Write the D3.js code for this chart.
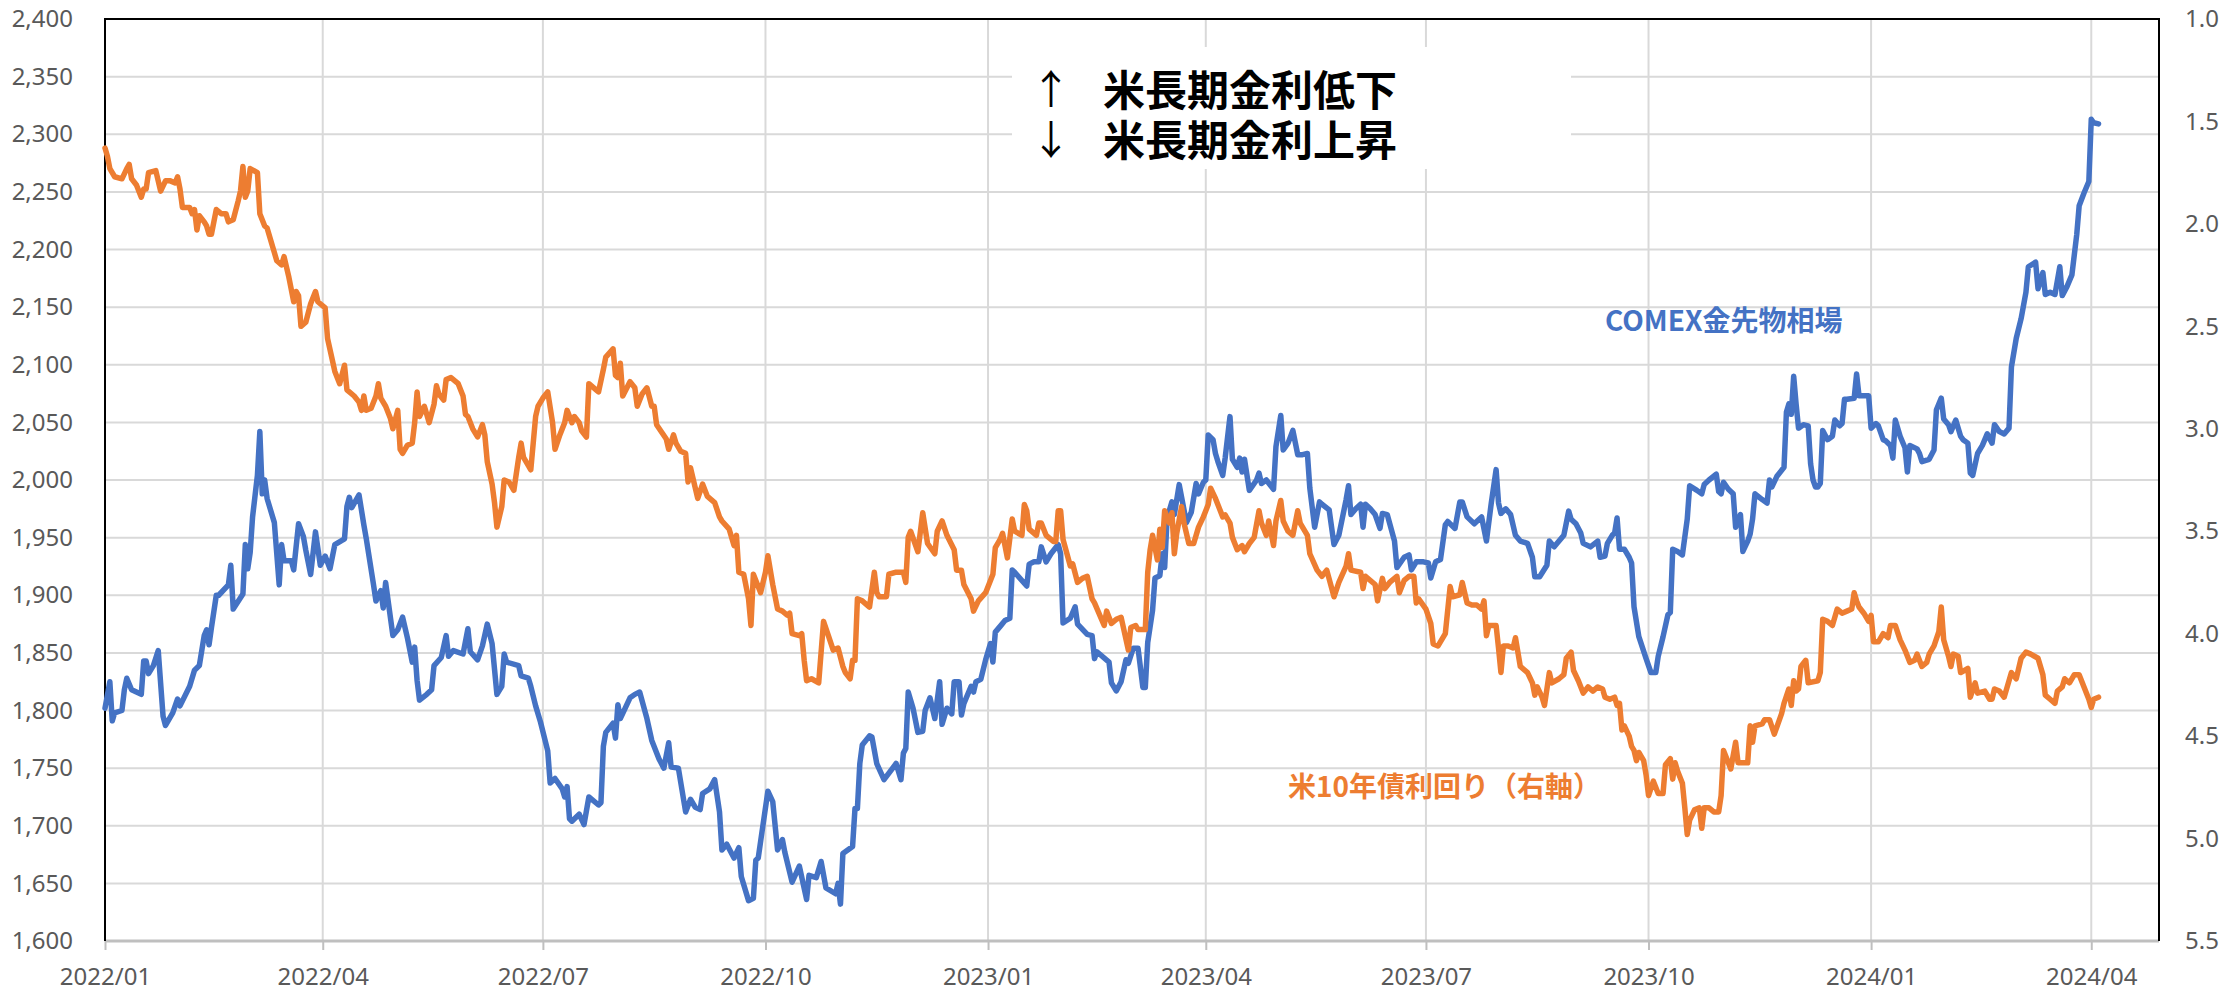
<!DOCTYPE html>
<html><head><meta charset="utf-8">
<script src="https://cdn.jsdelivr.net/npm/d3@7"></script>
<style>html,body{margin:0;padding:0;background:#fff;} svg{display:block;}</style>
</head><body>
<svg id="chart" width="2229" height="994"></svg>
<script>
// ---- Data ----
const goldSeries = [
["2022-01-03",1802],["2022-01-05",1825],["2022-01-06",1791],["2022-01-07",1798],["2022-01-10",1800],["2022-01-11",1818],["2022-01-12",1828],["2022-01-14",1818],["2022-01-16",1816],["2022-01-18",1814],["2022-01-19",1843],["2022-01-20",1843],["2022-01-21",1832],["2022-01-23",1839],["2022-01-25",1852],["2022-01-27",1795],["2022-01-28",1787],["2022-01-31",1798],
["2022-02-02",1810],["2022-02-03",1804],["2022-02-07",1821],["2022-02-09",1835],["2022-02-11",1839],["2022-02-13",1865],["2022-02-14",1870],["2022-02-15",1857],["2022-02-16",1872],["2022-02-18",1900],["2022-02-19",1900],["2022-02-23",1909],["2022-02-24",1926],["2022-02-25",1888],
["2022-03-01",1901],["2022-03-02",1944],["2022-03-03",1923],["2022-03-04",1937],["2022-03-05",1968],["2022-03-06",1986],["2022-03-07",2004],["2022-03-08",2042],["2022-03-09",1988],["2022-03-10",2000],["2022-03-11",1984],["2022-03-14",1963],["2022-03-16",1909],["2022-03-17",1944],["2022-03-18",1930],["2022-03-21",1930],["2022-03-22",1922],["2022-03-24",1962],["2022-03-26",1951],["2022-03-27",1939],["2022-03-29",1918],["2022-03-31",1955],
["2022-04-02",1926],["2022-04-04",1934],["2022-04-06",1923],["2022-04-08",1944],["2022-04-12",1949],["2022-04-13",1977],["2022-04-14",1985],["2022-04-15",1976],["2022-04-18",1987],["2022-04-20",1961],["2022-04-21",1949],["2022-04-24",1909],["2022-04-25",1895],["2022-04-27",1904],["2022-04-28",1889],["2022-04-29",1911],
["2022-05-02",1865],["2022-05-04",1870],["2022-05-06",1881],["2022-05-08",1863],["2022-05-10",1842],["2022-05-11",1855],["2022-05-12",1826],["2022-05-13",1809],["2022-05-16",1814],["2022-05-18",1818],["2022-05-19",1839],["2022-05-22",1846],["2022-05-24",1865],["2022-05-25",1847],["2022-05-27",1852],["2022-05-31",1849],
["2022-06-02",1871],["2022-06-03",1851],["2022-06-06",1844],["2022-06-08",1856],["2022-06-10",1875],["2022-06-12",1858],["2022-06-14",1814],["2022-06-16",1821],["2022-06-17",1849],["2022-06-18",1842],["2022-06-23",1839],["2022-06-24",1830],["2022-06-27",1828],["2022-06-28",1821],["2022-06-30",1804],
["2022-07-02",1790],["2022-07-05",1765],["2022-07-06",1737],["2022-07-08",1741],["2022-07-11",1732],["2022-07-12",1725],["2022-07-13",1734],["2022-07-14",1706],["2022-07-15",1704],["2022-07-18",1710],["2022-07-20",1701],["2022-07-22",1725],["2022-07-26",1718],["2022-07-27",1720],["2022-07-28",1769],["2022-07-29",1781],
["2022-08-01",1789],["2022-08-02",1776],["2022-08-03",1805],["2022-08-04",1793],["2022-08-08",1811],["2022-08-10",1814],["2022-08-12",1816],["2022-08-15",1793],["2022-08-17",1774],["2022-08-20",1758],["2022-08-22",1750],["2022-08-24",1772],["2022-08-25",1751],["2022-08-28",1750],["2022-08-31",1712],
["2022-09-02",1723],["2022-09-04",1716],["2022-09-06",1714],["2022-09-07",1728],["2022-09-10",1732],["2022-09-12",1740],["2022-09-14",1712],["2022-09-15",1679],["2022-09-17",1684],["2022-09-20",1672],["2022-09-22",1681],["2022-09-23",1656],["2022-09-26",1635],["2022-09-28",1637],["2022-09-29",1670],["2022-09-30",1672],
["2022-10-04",1730],["2022-10-06",1721],["2022-10-08",1679],["2022-10-10",1688],["2022-10-11",1677],["2022-10-14",1651],["2022-10-17",1665],["2022-10-20",1636],["2022-10-21",1657],["2022-10-24",1655],["2022-10-26",1669],["2022-10-28",1646],
["2022-11-01",1641],["2022-11-02",1650],["2022-11-03",1632],["2022-11-04",1676],["2022-11-08",1682],["2022-11-09",1715],["2022-11-10",1715],["2022-11-11",1754],["2022-11-12",1770],["2022-11-15",1778],["2022-11-16",1777],["2022-11-18",1754],["2022-11-21",1740],["2022-11-26",1754],["2022-11-28",1740],["2022-11-29",1763],["2022-11-30",1767],
["2022-12-01",1816],["2022-12-03",1802],["2022-12-05",1781],["2022-12-07",1782],["2022-12-08",1800],["2022-12-10",1811],["2022-12-12",1793],["2022-12-14",1825],["2022-12-15",1788],["2022-12-17",1802],["2022-12-19",1797],["2022-12-20",1825],["2022-12-22",1825],["2022-12-23",1796],["2022-12-24",1806],["2022-12-27",1821],["2022-12-28",1816],["2022-12-29",1825],["2022-12-31",1827],
["2023-01-02",1844],["2023-01-04",1858],["2023-01-05",1842],["2023-01-06",1868],["2023-01-08",1873],["2023-01-10",1878],["2023-01-12",1880],["2023-01-13",1922],["2023-01-14",1920],["2023-01-19",1908],["2023-01-20",1927],["2023-01-22",1929],["2023-01-24",1929],["2023-01-25",1942],["2023-01-27",1929],["2023-01-29",1936],
["2023-02-01",1944],["2023-02-02",1936],["2023-02-03",1876],["2023-02-06",1880],["2023-02-08",1890],["2023-02-09",1875],["2023-02-13",1866],["2023-02-15",1865],["2023-02-16",1845],["2023-02-17",1851],["2023-02-22",1842],["2023-02-23",1824],["2023-02-25",1817],["2023-02-27",1825],
["2023-03-01",1844],["2023-03-02",1841],["2023-03-04",1854],["2023-03-06",1854],["2023-03-08",1820],["2023-03-09",1820],["2023-03-10",1859],["2023-03-12",1887],["2023-03-13",1915],["2023-03-15",1917],["2023-03-16",1936],["2023-03-17",1924],["2023-03-18",1967],["2023-03-19",1974],["2023-03-20",1981],["2023-03-21",1970],["2023-03-23",1996],["2023-03-26",1963],["2023-03-28",1972],["2023-03-30",1997],["2023-03-31",1988],
["2023-04-02",1998],["2023-04-03",2000],["2023-04-04",2039],["2023-04-06",2035],["2023-04-07",2023],["2023-04-08",2016],["2023-04-10",2004],["2023-04-11",2019],["2023-04-13",2055],["2023-04-14",2018],["2023-04-16",2011],["2023-04-17",2019],["2023-04-18",2007],["2023-04-19",2018],["2023-04-21",1991],["2023-04-24",2000],["2023-04-25",2006],["2023-04-26",1997],["2023-04-28",2000],
["2023-05-01",1992],["2023-05-02",2029],["2023-05-04",2056],["2023-05-05",2026],["2023-05-07",2032],["2023-05-09",2043],["2023-05-11",2022],["2023-05-13",2022],["2023-05-15",2023],["2023-05-16",1993],["2023-05-18",1959],["2023-05-20",1981],["2023-05-21",1979],["2023-05-24",1974],["2023-05-26",1944],["2023-05-28",1952],["2023-05-31",1983],
["2023-06-01",1995],["2023-06-02",1970],["2023-06-04",1975],["2023-06-06",1979],["2023-06-07",1959],["2023-06-08",1979],["2023-06-10",1975],["2023-06-12",1970],["2023-06-14",1958],["2023-06-15",1971],["2023-06-17",1970],["2023-06-20",1947],["2023-06-21",1924],["2023-06-24",1933],["2023-06-26",1935],["2023-06-27",1922],["2023-06-29",1929],
["2023-07-02",1929],["2023-07-04",1928],["2023-07-05",1915],["2023-07-07",1929],["2023-07-09",1931],["2023-07-11",1961],["2023-07-12",1964],["2023-07-15",1958],["2023-07-17",1981],["2023-07-18",1981],["2023-07-20",1968],["2023-07-23",1962],["2023-07-26",1968],["2023-07-28",1947],["2023-07-30",1980],
["2023-08-01",2009],["2023-08-02",1980],["2023-08-03",1971],["2023-08-05",1975],["2023-08-07",1970],["2023-08-09",1952],["2023-08-11",1947],["2023-08-14",1945],["2023-08-16",1933],["2023-08-17",1916],["2023-08-19",1916],["2023-08-22",1926],["2023-08-23",1947],["2023-08-25",1942],["2023-08-27",1947],["2023-08-29",1952],["2023-08-31",1973],
["2023-09-01",1966],["2023-09-03",1962],["2023-09-05",1954],["2023-09-06",1945],["2023-09-09",1942],["2023-09-12",1947],["2023-09-13",1933],["2023-09-15",1934],["2023-09-16",1945],["2023-09-18",1952],["2023-09-19",1954],["2023-09-20",1967],["2023-09-21",1940],["2023-09-23",1940],["2023-09-25",1933],["2023-09-26",1928],["2023-09-27",1890],["2023-09-29",1864],
["2023-10-02",1845],["2023-10-04",1833],["2023-10-06",1833],["2023-10-07",1847],["2023-10-09",1864],["2023-10-11",1883],["2023-10-12",1885],["2023-10-13",1940],["2023-10-15",1938],["2023-10-17",1935],["2023-10-19",1966],["2023-10-20",1995],["2023-10-23",1991],["2023-10-25",1988],["2023-10-26",1996],["2023-10-28",2000],["2023-10-31",2005],
["2023-11-01",1990],["2023-11-02",1988],["2023-11-03",1998],["2023-11-05",1992],["2023-11-07",1988],["2023-11-08",1959],["2023-11-10",1970],["2023-11-11",1938],["2023-11-13",1947],["2023-11-14",1953],["2023-11-15",1966],["2023-11-16",1988],["2023-11-19",1983],["2023-11-21",1980],["2023-11-22",2000],["2023-11-23",1994],["2023-11-25",2003],["2023-11-28",2011],["2023-11-29",2059],["2023-11-30",2066],
["2023-12-01",2057],["2023-12-02",2090],["2023-12-03",2066],["2023-12-04",2045],["2023-12-06",2048],["2023-12-08",2047],["2023-12-09",2014],["2023-12-10",2000],["2023-12-11",1994],["2023-12-12",1994],["2023-12-13",1997],["2023-12-14",2043],["2023-12-16",2035],["2023-12-18",2038],["2023-12-19",2052],["2023-12-21",2047],["2023-12-22",2049],["2023-12-23",2070],["2023-12-24",2070],["2023-12-27",2071],["2023-12-28",2092],["2023-12-29",2073],["2023-12-31",2073],
["2024-01-02",2073],["2024-01-03",2045],["2024-01-05",2049],["2024-01-06",2047],["2024-01-08",2035],["2024-01-09",2034],["2024-01-11",2030],["2024-01-12",2019],["2024-01-13",2052],["2024-01-15",2038],["2024-01-17",2028],["2024-01-18",2007],["2024-01-19",2030],["2024-01-22",2027],["2024-01-23",2023],["2024-01-24",2016],["2024-01-27",2018],["2024-01-29",2026],["2024-01-30",2061],
["2024-02-01",2071],["2024-02-02",2053],["2024-02-04",2048],["2024-02-05",2042],["2024-02-07",2052],["2024-02-09",2038],["2024-02-10",2035],["2024-02-12",2032],["2024-02-13",2006],["2024-02-14",2004],["2024-02-16",2023],["2024-02-18",2030],["2024-02-20",2040],["2024-02-22",2032],["2024-02-23",2048],["2024-02-25",2042],["2024-02-27",2040],["2024-02-29",2045],
["2024-03-01",2098],["2024-03-03",2123],["2024-03-05",2140],["2024-03-07",2163],["2024-03-08",2185],["2024-03-11",2189],["2024-03-12",2166],["2024-03-14",2180],["2024-03-15",2161],["2024-03-17",2163],["2024-03-19",2161],["2024-03-21",2185],["2024-03-22",2160],["2024-03-24",2168],["2024-03-26",2178],["2024-03-28",2213],["2024-03-29",2238],["2024-03-31",2249],
["2024-04-02",2259],["2024-04-03",2313],["2024-04-04",2310],["2024-04-06",2309]
];

const yieldSeries = [
["2022-01-03",1.63],["2022-01-04",1.67],["2022-01-05",1.73],["2022-01-07",1.77],["2022-01-10",1.78],["2022-01-12",1.73],["2022-01-13",1.71],["2022-01-14",1.78],["2022-01-16",1.81],["2022-01-18",1.87],["2022-01-19",1.83],["2022-01-20",1.83],["2022-01-21",1.75],["2022-01-24",1.74],["2022-01-26",1.84],["2022-01-28",1.79],["2022-01-30",1.79],
["2022-02-01",1.80],["2022-02-02",1.77],["2022-02-03",1.83],["2022-02-04",1.92],["2022-02-06",1.92],["2022-02-07",1.92],["2022-02-08",1.95],["2022-02-09",1.93],["2022-02-10",2.03],["2022-02-11",1.96],["2022-02-13",1.99],["2022-02-14",2.01],["2022-02-15",2.05],["2022-02-16",2.05],["2022-02-18",1.93],["2022-02-20",1.95],["2022-02-22",1.95],["2022-02-23",1.99],["2022-02-25",1.98],["2022-02-27",1.89],["2022-02-28",1.84],
["2022-03-01",1.72],["2022-03-02",1.87],["2022-03-03",1.84],["2022-03-04",1.73],["2022-03-07",1.75],["2022-03-08",1.95],["2022-03-10",2.01],["2022-03-11",2.02],["2022-03-14",2.14],["2022-03-15",2.18],["2022-03-17",2.20],["2022-03-18",2.16],["2022-03-20",2.26],["2022-03-22",2.38],["2022-03-23",2.33],["2022-03-24",2.35],["2022-03-25",2.50],["2022-03-27",2.48],["2022-03-29",2.39],["2022-03-31",2.33],
["2022-04-01",2.38],["2022-04-04",2.41],["2022-04-05",2.56],["2022-04-08",2.72],["2022-04-10",2.78],["2022-04-12",2.69],["2022-04-13",2.81],["2022-04-16",2.84],["2022-04-18",2.87],["2022-04-19",2.91],["2022-04-20",2.84],["2022-04-21",2.91],["2022-04-23",2.90],["2022-04-25",2.84],["2022-04-26",2.78],["2022-04-27",2.85],["2022-04-29",2.89],
["2022-05-01",2.95],["2022-05-02",3.00],["2022-05-04",2.91],["2022-05-05",3.10],["2022-05-06",3.12],["2022-05-08",3.08],["2022-05-10",3.07],["2022-05-11",2.97],["2022-05-12",2.82],["2022-05-13",2.94],["2022-05-15",2.89],["2022-05-17",2.97],["2022-05-19",2.88],["2022-05-20",2.79],["2022-05-21",2.83],["2022-05-23",2.86],["2022-05-24",2.76],["2022-05-26",2.75],["2022-05-27",2.76],["2022-05-29",2.78],["2022-05-31",2.84],
["2022-06-01",2.93],["2022-06-02",2.94],["2022-06-04",3.00],["2022-06-06",3.04],["2022-06-08",2.98],["2022-06-09",3.03],["2022-06-10",3.16],["2022-06-12",3.27],["2022-06-13",3.36],["2022-06-14",3.48],["2022-06-16",3.38],["2022-06-17",3.25],["2022-06-19",3.26],["2022-06-21",3.30],["2022-06-23",3.14],["2022-06-24",3.07],["2022-06-25",3.14],["2022-06-27",3.18],["2022-06-28",3.20],["2022-06-30",2.94],
["2022-07-01",2.89],["2022-07-03",2.85],["2022-07-05",2.82],["2022-07-07",2.97],["2022-07-08",3.10],["2022-07-10",3.03],["2022-07-12",2.97],["2022-07-13",2.91],["2022-07-15",2.97],["2022-07-16",2.94],["2022-07-18",2.97],["2022-07-19",3.01],["2022-07-21",3.04],["2022-07-22",2.78],["2022-07-25",2.81],["2022-07-26",2.82],["2022-07-28",2.71],["2022-07-29",2.65],
["2022-08-01",2.61],["2022-08-02",2.74],["2022-08-03",2.75],["2022-08-04",2.68],["2022-08-05",2.84],["2022-08-08",2.77],["2022-08-10",2.80],["2022-08-11",2.89],["2022-08-13",2.83],["2022-08-15",2.80],["2022-08-17",2.89],["2022-08-18",2.89],["2022-08-19",2.98],["2022-08-23",3.05],["2022-08-24",3.10],["2022-08-26",3.03],["2022-08-27",3.07],["2022-08-29",3.11],["2022-08-31",3.12],
["2022-09-01",3.26],["2022-09-02",3.19],["2022-09-05",3.34],["2022-09-07",3.27],["2022-09-09",3.33],["2022-09-12",3.36],["2022-09-14",3.43],["2022-09-15",3.45],["2022-09-18",3.49],["2022-09-20",3.57],["2022-09-21",3.52],["2022-09-22",3.70],["2022-09-24",3.71],["2022-09-26",3.83],["2022-09-27",3.96],["2022-09-28",3.71],
["2022-10-01",3.80],["2022-10-03",3.70],["2022-10-04",3.62],["2022-10-06",3.76],["2022-10-08",3.88],["2022-10-10",3.89],["2022-10-12",3.91],["2022-10-13",3.90],["2022-10-14",4.00],["2022-10-17",4.01],["2022-10-18",4.00],["2022-10-19",4.13],["2022-10-20",4.23],["2022-10-22",4.22],["2022-10-25",4.24],["2022-10-26",4.09],["2022-10-27",3.94],["2022-10-29",4.01],["2022-10-31",4.08],
["2022-11-02",4.07],["2022-11-04",4.16],["2022-11-05",4.19],["2022-11-07",4.22],["2022-11-08",4.13],["2022-11-09",4.13],["2022-11-10",3.83],["2022-11-12",3.84],["2022-11-15",3.87],["2022-11-17",3.70],["2022-11-18",3.80],["2022-11-19",3.82],["2022-11-22",3.82],["2022-11-23",3.71],["2022-11-26",3.70],["2022-11-29",3.70],["2022-11-30",3.75],
["2022-12-01",3.53],["2022-12-02",3.50],["2022-12-05",3.60],["2022-12-07",3.41],["2022-12-09",3.56],["2022-12-12",3.61],["2022-12-13",3.50],["2022-12-15",3.45],["2022-12-17",3.52],["2022-12-20",3.59],["2022-12-21",3.69],["2022-12-23",3.69],["2022-12-24",3.76],["2022-12-27",3.83],["2022-12-28",3.89],["2022-12-30",3.84],
["2023-01-02",3.80],["2023-01-04",3.74],["2023-01-05",3.71],["2023-01-06",3.58],["2023-01-08",3.54],["2023-01-09",3.51],["2023-01-11",3.63],["2023-01-13",3.44],["2023-01-14",3.50],["2023-01-17",3.52],["2023-01-18",3.37],["2023-01-19",3.40],["2023-01-20",3.49],["2023-01-23",3.52],["2023-01-24",3.46],["2023-01-25",3.46],["2023-01-27",3.52],["2023-01-30",3.55],["2023-01-31",3.55],
["2023-02-01",3.40],["2023-02-02",3.40],["2023-02-03",3.54],["2023-02-06",3.67],["2023-02-07",3.66],["2023-02-09",3.75],["2023-02-11",3.73],["2023-02-13",3.72],["2023-02-15",3.83],["2023-02-16",3.85],["2023-02-20",3.96],["2023-02-21",3.89],["2023-02-23",3.95],["2023-02-25",3.93],["2023-02-27",3.92],
["2023-03-02",4.08],["2023-03-03",3.97],["2023-03-05",3.96],["2023-03-06",3.98],["2023-03-09",3.98],["2023-03-10",3.70],["2023-03-11",3.59],["2023-03-12",3.52],["2023-03-14",3.64],["2023-03-15",3.49],["2023-03-16",3.58],["2023-03-17",3.40],["2023-03-19",3.46],["2023-03-20",3.41],["2023-03-21",3.61],["2023-03-22",3.51],["2023-03-24",3.38],["2023-03-25",3.46],["2023-03-27",3.56],["2023-03-29",3.56],["2023-03-31",3.48],
["2023-04-02",3.43],["2023-04-04",3.37],["2023-04-05",3.29],["2023-04-07",3.34],["2023-04-10",3.43],["2023-04-11",3.42],["2023-04-13",3.46],["2023-04-14",3.53],["2023-04-16",3.59],["2023-04-18",3.57],["2023-04-19",3.60],["2023-04-21",3.56],["2023-04-23",3.53],["2023-04-25",3.40],["2023-04-26",3.46],["2023-04-28",3.52],["2023-04-29",3.45],
["2023-05-01",3.57],["2023-05-02",3.45],["2023-05-04",3.35],["2023-05-05",3.45],["2023-05-07",3.50],["2023-05-09",3.52],["2023-05-11",3.40],["2023-05-12",3.46],["2023-05-15",3.52],["2023-05-16",3.61],["2023-05-19",3.69],["2023-05-21",3.72],["2023-05-23",3.69],["2023-05-26",3.82],["2023-05-28",3.75],["2023-05-31",3.67],
["2023-06-01",3.61],["2023-06-02",3.69],["2023-06-06",3.70],["2023-06-07",3.78],["2023-06-08",3.72],["2023-06-12",3.76],["2023-06-13",3.84],["2023-06-15",3.73],["2023-06-16",3.78],["2023-06-18",3.75],["2023-06-21",3.72],["2023-06-22",3.80],["2023-06-24",3.74],["2023-06-26",3.72],["2023-06-28",3.72],["2023-06-29",3.85],["2023-06-30",3.83],
["2023-07-03",3.88],["2023-07-05",3.95],["2023-07-06",4.05],["2023-07-08",4.06],["2023-07-11",4.00],["2023-07-13",3.77],["2023-07-14",3.82],["2023-07-17",3.81],["2023-07-18",3.75],["2023-07-20",3.85],["2023-07-22",3.86],["2023-07-24",3.86],["2023-07-26",3.88],["2023-07-27",3.84],["2023-07-28",4.01],["2023-07-29",3.96],
["2023-08-01",3.96],["2023-08-02",4.07],["2023-08-03",4.19],["2023-08-04",4.06],["2023-08-06",4.06],["2023-08-08",4.07],["2023-08-09",4.02],["2023-08-11",4.16],["2023-08-14",4.19],["2023-08-16",4.24],["2023-08-17",4.30],["2023-08-18",4.26],["2023-08-20",4.31],["2023-08-21",4.35],["2023-08-23",4.19],["2023-08-24",4.24],["2023-08-27",4.22],["2023-08-29",4.20],["2023-08-30",4.12],
["2023-09-01",4.09],["2023-09-02",4.18],["2023-09-04",4.23],["2023-09-06",4.29],["2023-09-08",4.26],["2023-09-10",4.28],["2023-09-12",4.26],["2023-09-14",4.27],["2023-09-15",4.31],["2023-09-17",4.32],["2023-09-19",4.31],["2023-09-20",4.35],["2023-09-21",4.34],["2023-09-22",4.47],["2023-09-23",4.45],["2023-09-25",4.50],["2023-09-26",4.55],["2023-09-27",4.57],["2023-09-28",4.62],["2023-09-29",4.58],
["2023-10-01",4.62],["2023-10-02",4.69],["2023-10-03",4.79],["2023-10-05",4.72],["2023-10-07",4.78],["2023-10-09",4.78],["2023-10-10",4.64],["2023-10-12",4.61],["2023-10-13",4.71],["2023-10-14",4.63],["2023-10-15",4.67],["2023-10-17",4.73],["2023-10-18",4.85],["2023-10-19",4.98],["2023-10-20",4.91],["2023-10-22",4.86],["2023-10-24",4.85],["2023-10-25",4.95],["2023-10-26",4.85],["2023-10-28",4.85],["2023-10-30",4.87],
["2023-11-01",4.87],["2023-11-02",4.79],["2023-11-03",4.57],["2023-11-05",4.63],["2023-11-06",4.66],["2023-11-08",4.53],["2023-11-09",4.63],["2023-11-13",4.63],["2023-11-14",4.45],["2023-11-15",4.53],["2023-11-16",4.45],["2023-11-19",4.44],["2023-11-20",4.42],["2023-11-22",4.42],["2023-11-24",4.49],["2023-11-27",4.39],["2023-11-28",4.34],["2023-11-30",4.27],
["2023-12-01",4.35],["2023-12-02",4.23],["2023-12-03",4.28],["2023-12-04",4.27],["2023-12-05",4.16],["2023-12-07",4.13],["2023-12-08",4.24],["2023-12-12",4.23],["2023-12-13",4.19],["2023-12-14",3.93],["2023-12-16",3.94],["2023-12-18",3.96],["2023-12-20",3.88],["2023-12-22",3.90],["2023-12-24",3.89],["2023-12-26",3.88],["2023-12-27",3.80],["2023-12-28",3.84],["2023-12-29",3.87],["2023-12-31",3.90],
["2024-01-02",3.94],["2024-01-03",3.91],["2024-01-04",4.04],["2024-01-06",4.04],["2024-01-08",4.00],["2024-01-10",4.02],["2024-01-11",3.96],["2024-01-13",3.96],["2024-01-15",4.03],["2024-01-17",4.08],["2024-01-19",4.14],["2024-01-21",4.13],["2024-01-22",4.10],["2024-01-24",4.16],["2024-01-26",4.14],["2024-01-27",4.10],["2024-01-29",4.06],["2024-01-31",3.99],
["2024-02-01",3.87],["2024-02-02",4.03],["2024-02-04",4.11],["2024-02-05",4.16],["2024-02-06",4.10],["2024-02-08",4.11],["2024-02-09",4.19],["2024-02-12",4.17],["2024-02-13",4.31],["2024-02-15",4.24],["2024-02-16",4.29],["2024-02-19",4.28],["2024-02-21",4.32],["2024-02-22",4.32],["2024-02-23",4.27],["2024-02-25",4.28],["2024-02-27",4.31],["2024-02-29",4.23],
["2024-03-01",4.19],["2024-03-03",4.22],["2024-03-05",4.12],["2024-03-07",4.09],["2024-03-09",4.10],["2024-03-12",4.12],["2024-03-14",4.20],["2024-03-15",4.30],["2024-03-17",4.32],["2024-03-19",4.34],["2024-03-20",4.28],["2024-03-22",4.26],["2024-03-23",4.22],["2024-03-25",4.24],["2024-03-27",4.20],["2024-03-29",4.20],["2024-03-31",4.26],
["2024-04-02",4.32],["2024-04-03",4.36],["2024-04-04",4.32],["2024-04-06",4.31]
];

const leftTicks = [1600,1650,1700,1750,1800,1850,1900,1950,2000,2050,2100,2150,2200,2250,2300,2350,2400];
const rightTicks = [1.0,1.5,2.0,2.5,3.0,3.5,4.0,4.5,5.0,5.5];
const xTickDates = ["2022-01-03","2022-04-03","2022-07-03","2022-10-03","2023-01-03","2023-04-03","2023-07-03","2023-10-03","2024-01-03","2024-04-03"];
const xDomain = ["2022-01-03","2024-05-01"];
const leftDomain = [1600, 2400];
const rightDomain = [1.0, 5.5];
const goldLabel = "COMEX金先物相場";
const yieldLabel = "米10年債利回り（右軸）";
const noteArrows = ["↑","↓"];
const noteLines = ["米長期金利低下","米長期金利上昇"];

// ---- Layout ----
const W = 2229, H = 994;
const L = 105, R = 2159, T = 19, B = 941;
const BLUE = "#4472C4", ORANGE = "#ED7D31";
const parse = d3.timeParse("%Y-%m-%d");

const svg = d3.select("#chart");
svg.append("rect").attr("width", W).attr("height", H).attr("fill", "#fff");

const x = d3.scaleTime().domain(xDomain.map(parse)).range([L, R]);
const yL = d3.scaleLinear().domain(leftDomain).range([B, T]);
const yR = d3.scaleLinear().domain(rightDomain).range([T, B]);

const gold = goldSeries.map(([d, v]) => ({date: parse(d), v}));
const yld = yieldSeries.map(([d, v]) => ({date: parse(d), v}));
const ticks = xTickDates.map(parse);

// gridlines
svg.append("g").selectAll("line").data(leftTicks.filter(v => v > leftDomain[0] && v < leftDomain[1]))
  .join("line")
  .attr("x1", L).attr("x2", R).attr("y1", d => yL(d)).attr("y2", d => yL(d))
  .attr("stroke", "#d9d9d9").attr("stroke-width", 2);
svg.append("g").selectAll("line").data(ticks.slice(1))
  .join("line")
  .attr("x1", d => x(d)).attr("x2", d => x(d)).attr("y1", T).attr("y2", B)
  .attr("stroke", "#d9d9d9").attr("stroke-width", 2);

// annotation box (covers gridlines)
svg.append("rect").attr("x", 1012).attr("y", 47).attr("width", 559).attr("height", 122).attr("fill", "#fff");

// bottom axis
const xAxis = d3.axisBottom(x).tickValues(ticks).tickFormat(d3.timeFormat("%Y/%m")).tickSize(9).tickPadding(18);
const gx = svg.append("g").attr("transform", `translate(0,${B})`).call(xAxis);
gx.select(".domain").remove();
gx.selectAll(".tick line").attr("stroke", "#bfbfbf").attr("stroke-width", 2);
gx.selectAll("text").attr("font-family", "'Noto Sans', sans-serif").attr("font-size", 24).attr("fill", "#595959");
svg.append("line").attr("x1", L).attr("x2", R).attr("y1", B).attr("y2", B).attr("stroke", "#bfbfbf").attr("stroke-width", 3);

// left axis
const gl = svg.append("g").attr("transform", `translate(${L},0)`)
  .call(d3.axisLeft(yL).tickValues(leftTicks).tickFormat(d3.format(",")).tickSize(0).tickPadding(32));
gl.select(".domain").remove();
gl.selectAll("text").attr("font-family", "'Noto Sans', sans-serif").attr("font-size", 24).attr("fill", "#595959");

// right axis
const gr = svg.append("g").attr("transform", `translate(${R},0)`)
  .call(d3.axisRight(yR).tickValues(rightTicks).tickFormat(d3.format(".1f")).tickSize(0).tickPadding(26));
gr.select(".domain").remove();
gr.selectAll("text").attr("font-family", "'Noto Sans', sans-serif").attr("font-size", 24).attr("fill", "#595959");

// plot border (top, left, right)
svg.append("path").attr("d", `M${L},${B}V${T}H${R}V${B}`).attr("fill", "none").attr("stroke", "#000").attr("stroke-width", 2);

// lines
const lineG = d3.line().x(d => x(d.date)).y(d => yL(d.v));
const lineY = d3.line().x(d => x(d.date)).y(d => yR(d.v));
svg.append("path").datum(gold).attr("d", lineG).attr("fill", "none").attr("stroke", BLUE)
  .attr("stroke-width", 5.5).attr("stroke-linejoin", "round").attr("stroke-linecap", "round");
svg.append("path").datum(yld).attr("d", lineY).attr("fill", "none").attr("stroke", ORANGE)
  .attr("stroke-width", 5.5).attr("stroke-linejoin", "round").attr("stroke-linecap", "round");

// series labels
svg.append("text").attr("x", 1605).attr("y", 319).attr("dominant-baseline", "central")
  .attr("font-family", "'Noto Sans CJK JP', sans-serif").attr("font-weight", 700).attr("font-size", 28)
  .attr("fill", BLUE).text(goldLabel);
svg.append("text").attr("x", 1288).attr("y", 785).attr("dominant-baseline", "central")
  .attr("font-family", "'Noto Sans CJK JP', sans-serif").attr("font-weight", 700).attr("font-size", 28)
  .attr("fill", ORANGE).text(yieldLabel);

// annotation: one text block with two lines
const noteY = [87, 137];
const note = svg.append("text")
  .attr("font-family", "'Noto Sans CJK JP', sans-serif").attr("font-size", 42).attr("fill", "#000")
  .attr("dominant-baseline", "central");
noteLines.forEach((t, i) => {
  note.append("tspan").attr("x", 1031).attr("y", noteY[i]).attr("font-weight", 400).attr("font-size", 40).text(noteArrows[i]);
  note.append("tspan").attr("x", 1103).attr("y", noteY[i]).attr("font-weight", 700).text(t);
});
</script>
</body></html>
